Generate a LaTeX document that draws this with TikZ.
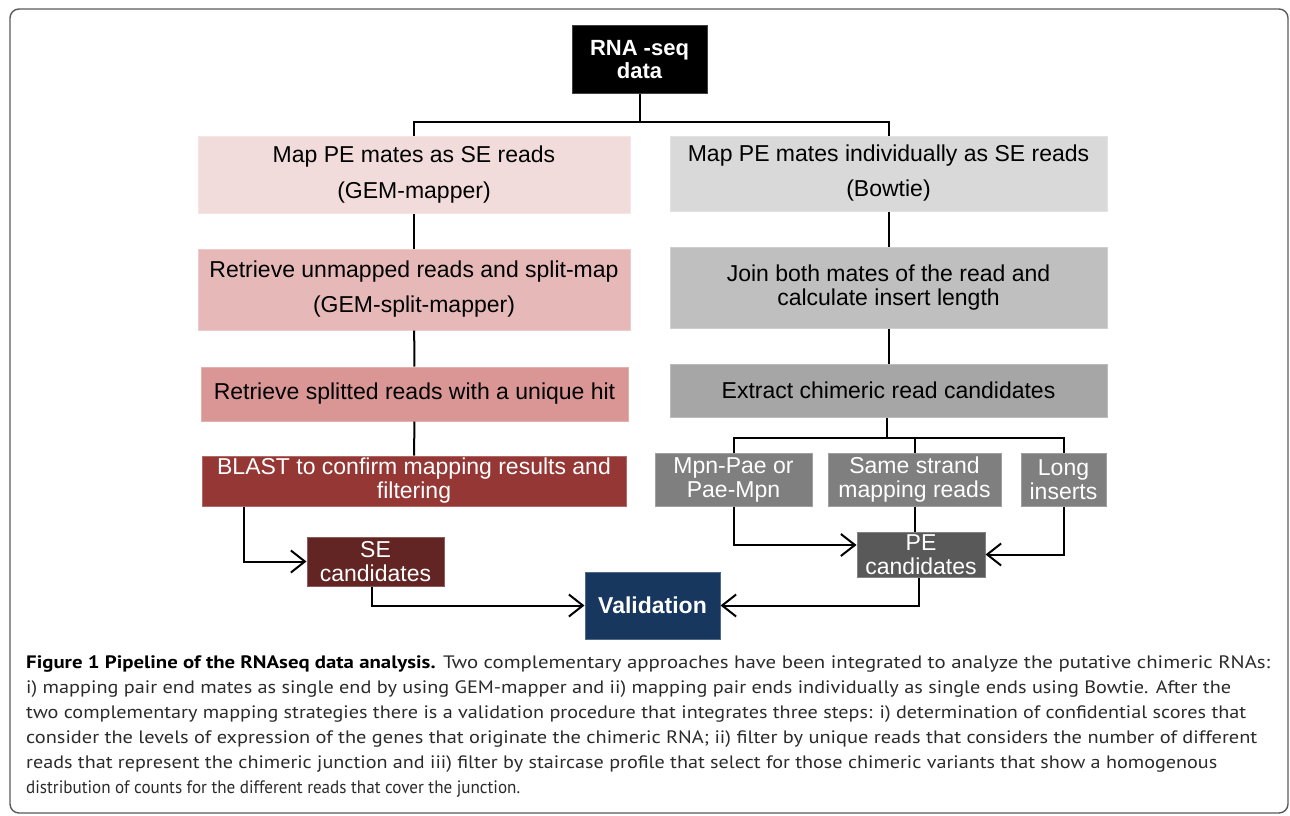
\documentclass[tikz,border=0pt]{standalone}
\usepackage{fontspec}
\usepackage{graphicx}
\setmainfont{Liberation Sans}
\newfontfamily\capfont{PT Sans}
\usetikzlibrary{arrows.meta,calc}
\definecolor{cLa}{HTML}{F2DCDB}
\definecolor{cLb}{HTML}{E6B9B8}
\definecolor{cLc}{HTML}{D99694}
\definecolor{cLd}{HTML}{953735}
\definecolor{cSE}{HTML}{632523}
\definecolor{cRa}{HTML}{D9D9D9}
\definecolor{cRb}{HTML}{BFBFBF}
\definecolor{cRc}{HTML}{A6A6A6}
\definecolor{cSm}{HTML}{7F7F7F}
\definecolor{cPE}{HTML}{595959}
\definecolor{cVal}{HTML}{17375E}
\definecolor{capgray}{HTML}{2B2B2B}
\definecolor{framegray}{HTML}{5A5A5A}
\newcommand{\capline}[2]{\resizebox{#1pt}{\height}{#2}}
\begin{document}
\begin{tikzpicture}[x=1pt,y=-1pt,
  box/.style={rectangle, inner sep=0pt, align=center, draw=#1!75!white, fill=#1, line width=1pt},
  ftA/.style={font=\fontsize{23}{36}\selectfont},
  ftB/.style={font=\fontsize{23}{35}\selectfont},
  ftC/.style={font=\fontsize{23}{24}\selectfont},
  ftD/.style={font=\fontsize{23}{23.5}\selectfont},
  link/.style={line width=2pt, draw=black},
  arr/.style={link, -{Straight Barb[length=14pt,width=22pt,line width=2pt]}},
  capln/.style={anchor=base west, inner sep=0pt, text=capgray, font=\capfont\fontsize{18}{25}\selectfont}]
\useasboundingbox (0,0) rectangle (1290,816);
\fill[white] (0,0) rectangle (1290,816);
\draw[rounded corners=9pt, line width=1.4pt, framegray] (10,9) rectangle (1288,813);

% nodes
\node[box=black, text=white, minimum width=135, minimum height=67,
      font=\bfseries\fontsize{22}{23}\selectfont] (rna) at (639.5,59.5) {RNA -seq\\data};

\node[box=cLa, ftA, minimum width=432, minimum height=77] (L1) at (414,175) {Map PE mates as SE reads\\(GEM-mapper)};
\node[box=cLb, ftB, minimum width=432, minimum height=81] (L2) at (414,289.5) {Retrieve unmapped reads and split-map\\(GEM-split-mapper)};
\node[box=cLc, ftB, minimum width=427, minimum height=54] (L3) at (414.5,394) {Retrieve splitted reads with a unique hit};
\node[box=cLd, ftC, text=white, minimum width=424, minimum height=50] (L4) at (414,481) {BLAST to confirm mapping results and\\filtering};
\node[box=cSE, ftD, text=white, minimum width=137, minimum height=49] (se) at (375.5,561.5) {SE\\candidates};

\node[box=cRa, ftB, minimum width=437, minimum height=75] (R1) at (888.5,173.5) {Map PE mates individually as SE reads\\(Bowtie)};
\node[box=cRb, ftC, minimum width=437, minimum height=81] (R2) at (888.5,287.5) {Join both mates of the read and\\calculate insert length};
\node[box=cRc, ftB, minimum width=437, minimum height=53] (R3) at (888.5,390.5) {Extract chimeric read candidates};

\node[box=cSm, ftC, text=white, minimum width=157, minimum height=53] (mp) at (733.5,479.5) {Mpn-Pae or\\Pae-Mpn};
\node[box=cSm, ftC, text=white, minimum width=173, minimum height=53] (ss) at (914.5,479.5) {Same strand\\mapping reads};
\node[box=cSm, ftC, text=white, minimum width=85, minimum height=53] (li) at (1063.5,479.5) {Long\\inserts};
\node[box=cPE, ftD, text=white, minimum width=128, minimum height=45] (pe) at (921,554.5) {PE\\candidates};

\node[box=cVal, text=white, minimum width=135, minimum height=67,
      font=\bfseries\fontsize{23}{24}\selectfont] (val) at (652.5,605.5) {Validation};

% connectors
\coordinate (split) at (639.5,122);
\coordinate (bsplit) at (887,438);
\draw[link] (rna.south) -- (split);
\draw[link] (L1.north) |- (split) -| (R1.north);
\draw[link] (L1) -- (L2);
\draw[link] (L2) -- (L3);
\draw[link] (L3) -- (L4);
\draw[link] (R1) -- (R2);
\draw[link] (R2) -- (R3);
\draw[link] (R3.south -| bsplit) -- (bsplit);
\draw[link] (mp.north) |- (bsplit) -| (li.north);
\draw[link] (ss.north) -- (ss.north |- bsplit);
\draw[arr] (mp.south) |- ([yshift=9.5pt]pe.west);
\draw[link] (ss.south) -- (ss.south |- pe.north);
\draw[arr] (li.south) |- (pe.east);
\draw[arr] ([xshift=-2pt]pe.south) |- (val.east);
\draw[arr] ([xshift=-170pt]L4.south) |- (se.west);
\draw[arr] ([xshift=-4pt]se.south) |- (val.west);

% caption
\node[capln] (c1) at (26,668) {\capline{1244}{\textbf{\color{black}Figure 1 Pipeline of the RNAseq data analysis.} Two complementary approaches have been integrated to analyze the putative chimeric RNAs:}};
\node[capln] (c2) at (26,693) {\capline{1205}{i) mapping pair end mates as single end by using GEM-mapper and ii) mapping pair ends individually as single ends using Bowtie. After the}};
\node[capln] (c3) at (26,718) {\capline{1220}{two complementary mapping strategies there is a validation procedure that integrates three steps: i) determination of confidential scores that}};
\node[capln] (c4) at (26,743) {\capline{1231}{consider the levels of expression of the genes that originate the chimeric RNA; ii) filter by unique reads that considers the number of different}};
\node[capln] (c5) at (26,768) {\capline{1191}{reads that represent the chimeric junction and iii) filter by staircase profile that select for those chimeric variants that show a homogenous}};
\node[capln] (c6) at (26,793) {\capline{494}{distribution of counts for the different reads that cover the junction.}};
\end{tikzpicture}
\end{document}
